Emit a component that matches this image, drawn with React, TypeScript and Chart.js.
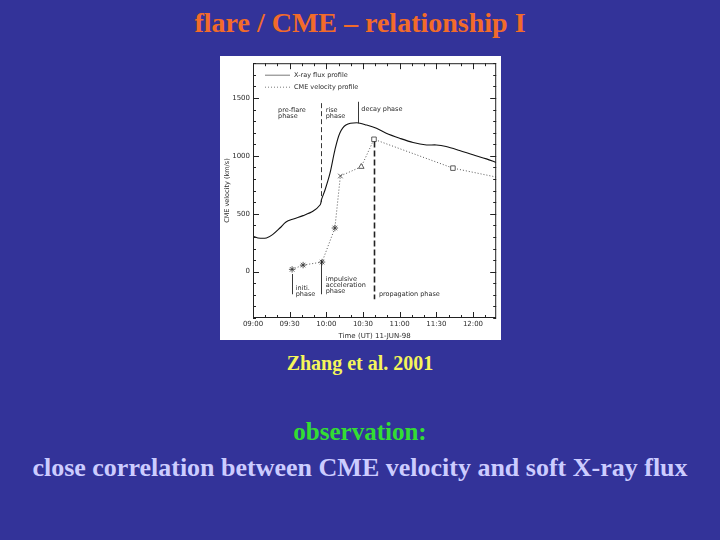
import { useEffect, useRef } from "react";
import { Chart, registerables } from "chart.js";

Chart.register(...registerables);

// Minutes after 09:00 UT and soft X-ray flux profile (plotted on the velocity scale)
const xrayTime = [0, 4, 11, 16, 22, 27, 33, 41, 49, 55, 56, 59, 63, 67, 71, 76, 85, 93, 101, 109, 120, 131, 142, 150, 158, 169, 180, 191, 199];
const xrayFlux = [306, 291, 291, 320, 377, 429, 455, 484, 521, 578, 621, 707, 850, 1050, 1195, 1266, 1286, 1266, 1238, 1195, 1152, 1115, 1094, 1094, 1080, 1046, 1009, 974, 943];

// CME velocity measurements
const cmeTime = [32, 41, 56.5, 67, 71.5, 88.6, 99, 163.6, 199];
const cmeVelocity = [20, 57, 83, 377, 826, 906, 1143, 894, 817];
const cmeMarker = ["star", "star", "star", "star", "crossRot", "triangle", "rect", "rect", "circle"];
const cmeMarkerShown = [1, 1, 1, 1, 1, 1, 1, 1, 0];

// Axis ticks
const xTickMinutes = [0, 30, 60, 90, 120, 150, 180];
const xTickLabels = ["09:00", "09:30", "10:00", "10:30", "11:00", "11:30", "12:00"];
const yTickValues = [0, 500, 1000, 1500];
const yTickLabels = ["0", "500", "1000", "1500"];

// Phase annotations (data coordinates)
const phaseLineX = [56, 56, 32.2, 85.9, 99];
const phaseLineTop = [1455, 100, -20, 1467, 1123];
const phaseLineBottom = [600, -195, -195, 1281, -238];

const phaseTextX = [20.5, 59.5, 88.6, 34.9, 59.5, 103];
const phaseTextY = [1424, 1424, 1430, -115, -37, -169];
const phaseTexts = [
  ["pre-flare", "phase"],
  ["rise", "phase"],
  ["decay phase"],
  ["initi.", "phase"],
  ["impulsive", "acceleration", "phase"],
  ["propagation phase"],
];

const FONT = "'DejaVu Sans', sans-serif";
const INK = "#2a2a2a";

const plotDecor = {
  id: "plotDecor",
  afterDatasetsDraw(chart: any) {
    const { ctx, chartArea: a, scales } = chart;
    const x = scales.x;
    const y = scales.y;
    const seg = (x0: number, y0: number, x1: number, y1: number) => {
      ctx.beginPath();
      ctx.moveTo(x0, y0);
      ctx.lineTo(x1, y1);
      ctx.stroke();
    };
    ctx.save();
    ctx.strokeStyle = "#222";
    ctx.lineWidth = 1;
    ctx.setLineDash([]);
    ctx.strokeRect(a.left + 0.5, a.top + 0.5, a.width - 1, a.height - 1);
    // inward ticks
    for (let v = -400; v <= 1800; v += 100) {
      const py = Math.round(y.getPixelForValue(v)) + 0.5;
      const len = v % 500 === 0 ? 6 : 3;
      seg(a.left, py, a.left + len, py);
      seg(a.right, py, a.right - len, py);
    }
    for (let m = 0; m <= 199; m += 10) {
      const px = Math.round(x.getPixelForValue(m)) + 0.5;
      const len = m % 30 === 0 ? 6 : 3;
      seg(px, a.bottom, px, a.bottom - len);
      seg(px, a.top, px, a.top + len);
    }
    // phase lines
    phaseLineX.forEach((lx, i) => {
      const px = Math.round(x.getPixelForValue(lx)) + 0.5;
      if (i === 0) { ctx.setLineDash([5, 3]); ctx.lineWidth = 0.9; }
      else if (i === 4) { ctx.setLineDash([6, 3]); ctx.lineWidth = 1.6; }
      else { ctx.setLineDash([]); ctx.lineWidth = 0.9; }
      seg(px, y.getPixelForValue(phaseLineTop[i]), px, y.getPixelForValue(phaseLineBottom[i]));
    });
    ctx.setLineDash([]);
    // phase texts
    ctx.fillStyle = INK;
    ctx.font = `6.5px ${FONT}`;
    ctx.textBaseline = "top";
    ctx.textAlign = "left";
    phaseTexts.forEach((lines, i) => {
      const px = x.getPixelForValue(phaseTextX[i]);
      const py = y.getPixelForValue(phaseTextY[i]);
      lines.forEach((t, j) => ctx.fillText(t, px, py + j * 6));
    });
    // legend
    const lx0 = a.left + 12;
    const lx1 = a.left + 37;
    const ltx = a.left + 41;
    const ly0 = a.top + 12;
    const ly1 = a.top + 24;
    ctx.strokeStyle = "#555";
    ctx.lineWidth = 0.8;
    seg(lx0, ly0, lx1, ly0);
    ctx.setLineDash([1, 2]);
    seg(lx0, ly1, lx1, ly1);
    ctx.setLineDash([]);
    ctx.textBaseline = "middle";
    ctx.fillText("X-ray flux profile", ltx, ly0);
    ctx.fillText("CME velocity profile", ltx, ly1);
    ctx.restore();
  },
};

function PlotCanvas() {
  const ref = useRef<HTMLCanvasElement | null>(null);
  useEffect(() => {
    if (!ref.current) return;
    const chart = new Chart(ref.current, {
      type: "line",
      data: {
        datasets: [
          {
            label: "X-ray flux profile",
            data: xrayTime.map((t, i) => ({ x: t, y: xrayFlux[i] })),
            borderColor: "#111",
            borderWidth: 1.1,
            pointRadius: 0,
            tension: 0.3,
          },
          {
            label: "CME velocity profile",
            data: cmeTime.map((t, i) => ({ x: t, y: cmeVelocity[i] })),
            borderColor: "#444",
            borderWidth: 0.9,
            borderDash: [1, 2],
            pointStyle: cmeMarker as any,
            pointRadius: cmeMarkerShown.map((s) => (s ? 3.2 : 0)),
            pointBorderColor: "#333",
            pointBackgroundColor: "#fff",
            pointBorderWidth: 0.8,
            tension: 0,
          },
        ],
      },
      options: {
        animation: false,
        responsive: false,
        maintainAspectRatio: false,
        layout: { padding: { top: 5, right: 4, left: 0, bottom: 0 } },
        plugins: { legend: { display: false }, tooltip: { enabled: false } },
        elements: { line: { fill: false } },
        scales: {
          x: {
            type: "linear",
            min: 0,
            max: 199,
            grid: { display: false, drawTicks: false },
            border: { display: false },
            afterBuildTicks: (s: any) => {
              s.ticks = xTickMinutes.map((v) => ({ value: v }));
            },
            ticks: {
              callback: (v: any) => xTickLabels[xTickMinutes.indexOf(Number(v))] ?? "",
              font: { size: 7, family: FONT },
              color: INK,
              padding: 2,
              maxRotation: 0,
              autoSkip: false,
            },
            title: {
              display: true,
              text: "Time (UT) 11-JUN-98",
              font: { size: 7, family: FONT },
              color: INK,
              padding: { top: 0, bottom: 0 },
            },
            afterFit: (s: any) => {
              s.height = 22;
            },
          },
          y: {
            type: "linear",
            min: -400,
            max: 1800,
            grid: { display: false, drawTicks: false },
            border: { display: false },
            afterBuildTicks: (s: any) => {
              s.ticks = yTickValues.map((v) => ({ value: v }));
            },
            ticks: {
              callback: (v: any) => yTickLabels[yTickValues.indexOf(Number(v))] ?? "",
              font: { size: 7, family: FONT },
              color: INK,
              padding: 3,
            },
            title: {
              display: true,
              text: "CME velocity (km/s)",
              font: { size: 6.5, family: FONT },
              color: INK,
              padding: { top: 3, bottom: 0 },
            },
            afterFit: (s: any) => {
              s.width = 33;
            },
          },
        },
      },
      plugins: [plotDecor],
    });
    return () => chart.destroy();
  }, []);
  return (
    <canvas
      ref={ref}
      width={281}
      height={284}
      style={{ position: "absolute", left: 220, top: 56, width: 281, height: 284, background: "#fff" }}
    />
  );
}

const textStyle = (top: number, size: number, color: string): any => ({
  position: "absolute",
  left: 0,
  top,
  width: 720,
  textAlign: "center",
  fontSize: size,
  lineHeight: `${size}px`,
  fontWeight: "bold",
  color,
  whiteSpace: "nowrap",
});

export default function App() {
  return (
    <div
      style={{
        position: "fixed",
        left: 0,
        top: 0,
        width: 720,
        height: 540,
        background: "#333399",
        overflow: "hidden",
        fontFamily: "'Liberation Serif', 'Times New Roman', serif",
      }}
    >
      <div style={textStyle(8.5, 28, "#f26b2a")}>flare / CME – relationship I</div>
      <PlotCanvas />
      <div style={textStyle(353, 20, "#f5f55a")}>Zhang et al. 2001</div>
      <div style={textStyle(419, 25, "#33dd33")}>observation:</div>
      <div style={textStyle(454.5, 26, "#ccccff")}>close correlation between CME velocity and soft X-ray flux</div>
    </div>
  );
}
